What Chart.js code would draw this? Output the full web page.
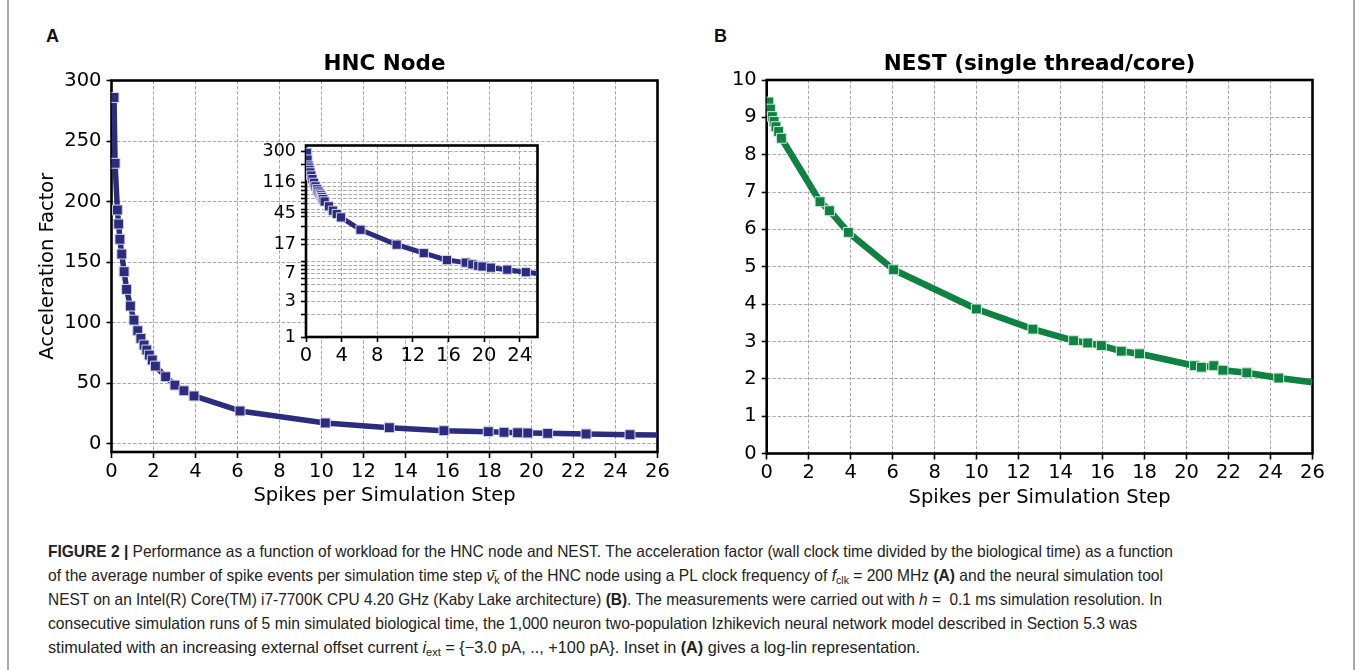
<!DOCTYPE html>
<html><head><meta charset="utf-8">
<script src="https://cdn.jsdelivr.net/npm/chart.js@4.4.1/dist/chart.umd.min.js"></script>
<style>
html,body{margin:0;padding:0;background:#fff;}
body{width:1357px;height:670px;position:relative;overflow:hidden;}
.frame{position:absolute;top:0;height:670px;width:2px;background:#a9a9a9;}
.plab{position:absolute;font-family:"Liberation Sans",Arial,sans-serif;font-weight:bold;font-size:18px;line-height:20px;color:#111;}
canvas{position:absolute;}
#cap{position:absolute;left:48px;top:539px;font-family:"Liberation Sans Narrow","Liberation Sans",sans-serif;font-size:16.5px;color:#222;}
#cap .ln{height:24px;line-height:24px;white-space:nowrap;transform-origin:0 0;width:max-content;}
#cap sub{font-size:0.68em;vertical-align:-0.28em;line-height:0;}
</style></head>
<body>
<div class="frame" style="left:7px"></div>
<div class="frame" style="left:1353px"></div>
<div class="plab" style="left:46px;top:26px">A</div>
<div class="plab" style="left:714px;top:26px">B</div>
<canvas id="cA" width="680" height="530" style="left:0;top:0"></canvas>
<canvas id="cIn" width="310" height="250" style="left:240px;top:130px"></canvas>
<canvas id="cB" width="677" height="530" style="left:680px;top:0"></canvas>
<div id="cap">
<div class="ln"><b>FIGURE 2 |</b> Performance as a function of workload for the HNC node and NEST. The acceleration factor (wall clock time divided by the biological time) as a function</div>
<div class="ln">of the average number of spike events per simulation time step <i>ν̄</i><sub>k</sub> of the HNC node using a PL clock frequency of <i>f</i><sub>clk</sub> = 200 MHz <b>(A)</b> and the neural simulation tool</div>
<div class="ln">NEST on an Intel(R) Core(TM) i7-7700K CPU 4.20 GHz (Kaby Lake architecture) <b>(B)</b>. The measurements were carried out with <i>h</i> =&nbsp; 0.1 ms simulation resolution. In</div>
<div class="ln">consecutive simulation runs of 5 min simulated biological time, the 1,000 neuron two-population Izhikevich neural network model described in Section 5.3 was</div>
<div class="ln">stimulated with an increasing external offset current <i>i</i><sub>ext</sub> = {−3.0 pA, .., +100 pA}. Inset in <b>(A)</b> gives a log-lin representation.</div>
</div>
<script>
// ---------- data ----------
const hncX = [0.12,0.17,0.28,0.34,0.40,0.49,0.60,0.72,0.90,1.07,1.25,1.40,1.55,1.68,1.80,1.94,2.09,2.58,3.02,3.45,3.93,6.12,10.18,13.23,15.83,17.94,18.69,19.34,19.82,20.77,22.60,24.69,26.0];
const hncY = [286,231.6,193,181.4,168.8,156.6,142,127.4,113.6,102,93.2,86.9,81.4,77.3,73.1,69,64,55.2,48.3,43.6,39.3,26.9,17,13.1,10.6,9.8,9.3,8.9,8.7,8.4,7.9,7.3,7.0];
const nestX = [0.10,0.18,0.27,0.35,0.44,0.57,0.70,2.54,2.99,3.89,6.05,9.99,12.68,14.62,15.29,15.94,16.89,17.76,20.38,20.71,21.30,21.73,22.87,24.39,26.0];
const nestY = [9.41,9.22,9.02,8.89,8.75,8.62,8.44,6.74,6.50,5.92,4.92,3.87,3.33,3.02,2.96,2.89,2.74,2.67,2.35,2.31,2.35,2.23,2.16,2.02,1.91];

const xTicksA = [0,2,4,6,8,10,12,14,16,18,20,22,24,26];
const yTicksA = [0,50,100,150,200,250,300];
const xTicksB = [0,2,4,6,8,10,12,14,16,18,20,22,24,26];
const yTicksB = [0,1,2,3,4,5,6,7,8,9,10];
const xTicksInset = [0,4,8,12,16,20,24];
const yLabelsInset = [1,3,7,17,45,116,300];
const yMinorInset = [2,4,5,6,8,9,10,20,30,40,50,60,70,80,90,100,200];

const titleA = 'HNC Node';
const titleB = 'NEST (single thread/core)';
const xTitle = 'Spikes per Simulation Step';
const yTitleA = 'Acceleration Factor';

// ---------- styles ----------
const NAVY = '#2b2c7e', NAVY_EDGE = '#d4d4ec';
const GREEN = '#0f8140', GREEN_EDGE = '#d2eadb';
const GRID = '#a9a9a9';
const FONT = 'DejaVu Sans';

const framePlugin = {
  id: 'frame',
  beforeDraw(chart, args, opts) {
    if (opts.fill) {
      const a = chart.chartArea, ctx = chart.ctx;
      ctx.save(); ctx.fillStyle = opts.fill; ctx.fillRect(a.left, a.top, a.width, a.height); ctx.restore();
    }
  },
  beforeDatasetsDraw(chart, args, opts) {
    const a = chart.chartArea, ctx = chart.ctx;
    ctx.save(); ctx.strokeStyle = '#000'; ctx.lineWidth = opts.width || 2.6;
    ctx.strokeRect(a.left, a.top, a.width, a.height); ctx.restore();
  }
};

function pts(xs, ys) { return xs.map((x, i) => ({x: x, y: ys[i]})); }

function axis(o) {
  const s = {
    type: o.type || 'linear', min: o.min, max: o.max,
    afterBuildTicks: sc => { sc.ticks = o.ticks.map(v => ({value: v})); },
    grid: {color: GRID, lineWidth: 1, tickColor: '#000', tickLength: o.tl, tickWidth: 1.6, tickBorderDash: []},
    border: {display: false, dash: [3.5, 1.8]},
    ticks: {font: {family: FONT, size: o.fs}, color: '#000', padding: o.pad, maxRotation: 0, autoSkip: false,
            callback: o.cb || (v => String(v))},
    title: o.title ? {display: true, text: o.title, color: '#000', font: {family: FONT, size: 19.5}, padding: o.tpad} : {display: false}
  };
  if (o.h !== undefined) s.afterFit = sc => { sc.height = o.h; };
  if (o.w !== undefined) s.afterFit = sc => { sc.width = o.w; };
  return s;
}

function dataset(xs, ys, color, edge, lw, r) {
  const last = xs.length - 1;
  return {
    data: pts(xs, ys), borderColor: color, borderWidth: lw, tension: 0,
    borderJoinStyle: 'round', pointStyle: 'rect',
    pointRadius: c => c.dataIndex === last ? 0 : r,
    pointBackgroundColor: color, pointBorderColor: edge, pointBorderWidth: 1
  };
}

const common = {responsive: false, animation: false, events: []};

new Chart(document.getElementById('cA'), {
  type: 'line',
  data: {datasets: [dataset(hncX, hncY, NAVY, NAVY_EDGE, 5.5, 7)]},
  options: Object.assign({}, common, {
    layout: {padding: {left: 0, right: 22.5, top: 51.4, bottom: 8}},
    plugins: {legend: {display: false}, tooltip: {enabled: false},
      title: {display: true, text: titleA, fullSize: false, color: '#000', font: {family: FONT, size: 21.5, weight: 'bold'}, padding: {top: 0, bottom: 3.3}},
      frame: {}},
    scales: {
      x: axis({min: 0, max: 26, ticks: xTicksA, tl: 6, pad: 2, fs: 19.5, title: xTitle, tpad: {top: 0, bottom: 14}, h: 70}),
      y: axis({min: -7, max: 300, ticks: yTicksA, tl: 5, pad: 5, fs: 19.5, title: yTitleA, tpad: {top: 36, bottom: 0}, w: 111.5})
    }
  }),
  plugins: [framePlugin]
});

new Chart(document.getElementById('cIn'), {
  type: 'line',
  data: {datasets: [dataset(hncX, hncY, NAVY, NAVY_EDGE, 5, 6.5)]},
  options: Object.assign({}, common, {
    layout: {padding: {left: 0, right: 12.5, top: 14, bottom: 8}},
    plugins: {legend: {display: false}, tooltip: {enabled: false}, frame: {fill: '#fff'}},
    scales: {
      x: axis({min: 0, max: 26, ticks: xTicksInset, tl: 5, pad: 2, fs: 19.5, h: 35}),
      y: axis({type: 'logarithmic', min: 1, max: 357, ticks: yLabelsInset.concat(yMinorInset).sort((a, b) => a - b),
               tl: 5, pad: 5, fs: 17.5, w: 66, cb: v => yLabelsInset.indexOf(v) >= 0 ? String(v) : ''})
    }
  }),
  plugins: [framePlugin]
});

new Chart(document.getElementById('cB'), {
  type: 'line',
  data: {datasets: [dataset(nestX, nestY, GREEN, GREEN_EDGE, 6.5, 7)]},
  options: Object.assign({}, common, {
    layout: {padding: {left: 0, right: 44.5, top: 51.4, bottom: 6.5}},
    plugins: {legend: {display: false}, tooltip: {enabled: false},
      title: {display: true, text: titleB, fullSize: false, color: '#000', font: {family: FONT, size: 21.5, weight: 'bold'}, padding: {top: 0, bottom: 2.8}},
      frame: {}},
    scales: {
      x: axis({min: 0, max: 26, ticks: xTicksB, tl: 6, pad: 2, fs: 19.5, title: xTitle, tpad: {top: 0, bottom: 14}, h: 70}),
      y: axis({min: 0, max: 10, ticks: yTicksB, tl: 5, pad: 5, fs: 19.5, w: 86.7})
    }
  }),
  plugins: [framePlugin]
});

// caption line fitting
const capRight = [1173, 1163, 1162, 1137, 920];
document.querySelectorAll('#cap .ln').forEach((el, i) => {
  const w = el.getBoundingClientRect().width;
  el.style.transform = 'scaleX(' + ((capRight[i] - 48) / w) + ')';
});
</script>
</body></html>
